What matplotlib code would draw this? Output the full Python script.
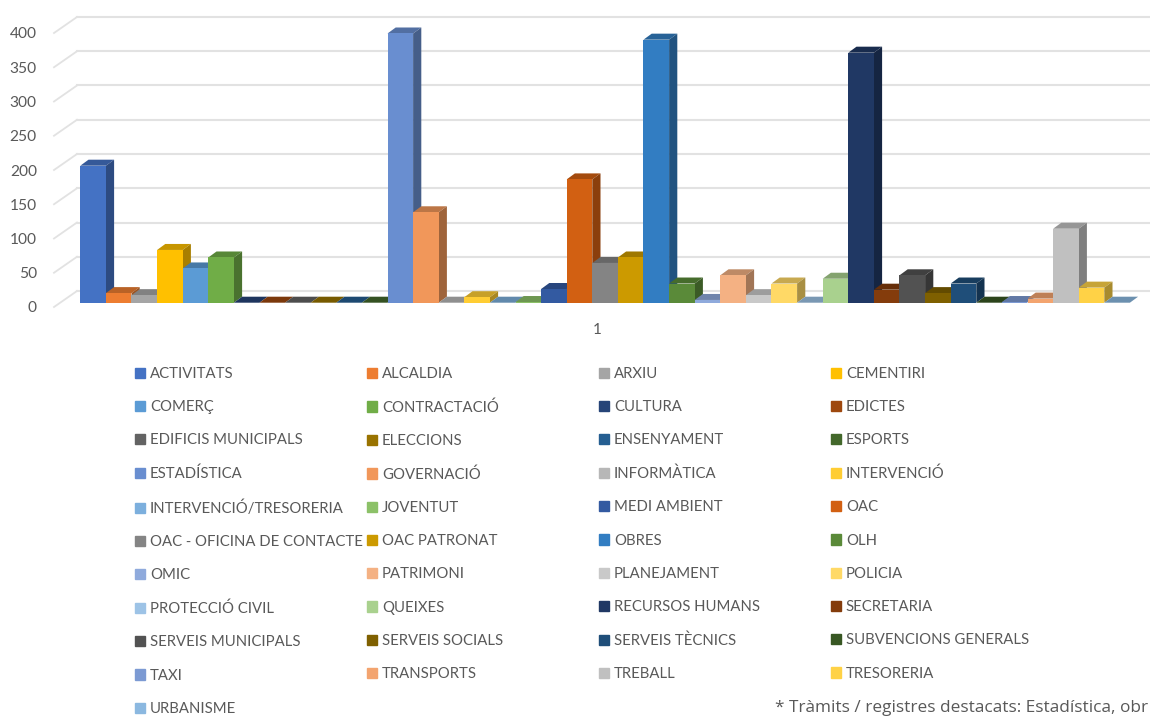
import matplotlib
matplotlib.use("Agg")
import matplotlib.pyplot as plt
from matplotlib.patches import Patch, Polygon

names = ["ACTIVITATS", "ALCALDIA", "ARXIU", "CEMENTIRI",
         "COMERÇ", "CONTRACTACIÓ", "CULTURA", "EDICTES",
         "EDIFICIS MUNICIPALS", "ELECCIONS", "ENSENYAMENT", "ESPORTS",
         "ESTADÍSTICA", "GOVERNACIÓ", "INFORMÀTICA", "INTERVENCIÓ",
         "INTERVENCIÓ/TRESORERIA", "JOVENTUT", "MEDI AMBIENT", "OAC",
         "OAC - OFICINA DE CONTACTE", "OAC PATRONAT", "OBRES", "OLH",
         "OMIC", "PATRIMONI", "PLANEJAMENT", "POLICIA",
         "PROTECCIÓ CIVIL", "QUEIXES", "RECURSOS HUMANS", "SECRETARIA",
         "SERVEIS MUNICIPALS", "SERVEIS SOCIALS", "SERVEIS TÈCNICS", "SUBVENCIONS GENERALS",
         "TAXI", "TRANSPORTS", "TREBALL", "TRESORERIA",
         "URBANISME"]

values = [200, 14, 11, 77, 50, 66, 0, 0, 0, 0, 0, 0,
          393, 132, 0, 8, 0, 1, 20, 180, 58, 66, 384, 28,
          4, 40, 11, 28, 0, 35, 365, 19, 40, 14, 28, 0,
          1, 6, 108, 22, 0]

colors = ["#4472C4", "#ED7D31", "#A5A5A5", "#FFC000", "#5B9BD5", "#70AD47",
          "#264478", "#9E480E", "#636363", "#997300", "#255E91", "#43682B",
          "#698ED0", "#F1975A", "#B7B7B7", "#FFCD33", "#7CAFDD", "#8CC168",
          "#335AA1", "#D26012", "#848484", "#CC9A00", "#327DC2", "#5A8A39",
          "#8FAADC", "#F4B183", "#C9C9C9", "#FFD966", "#9DC3E6", "#A9D18E",
          "#203864", "#843C0C", "#525252", "#7F6000", "#1F4E79", "#385723",
          "#7C9AD3", "#F3A46F", "#C0C0C0", "#FFD246", "#8BB8E0"]

yticks = [0, 50, 100, 150, 200, 250, 300, 350, 400]

W, H = 1150, 716
TEXT = "#595959"
plt.rcParams["font.family"] = ["Lato", "DejaVu Sans"]


def shade(col, f):
    r, g, b = matplotlib.colors.to_rgb(col)
    return (r * f, g * f, b * f)


fig = plt.figure(figsize=(W / 100, H / 100), dpi=100)
ax = fig.add_axes([54 / W, (H - 307) / H, (W - 54) / W, 274 / H])

# one x unit is one bar, 25.6 px wide, first bar starts at 80.3 px
bar_w = 25.6
px_y = 274 / 400
ax.set_xlim((54 - 80.3) / bar_w, (W - 80.3) / bar_w)
ax.set_ylim(0, 400)

# fake 3d offsets
wall_dx = 23 / bar_w
wall_dy = 16 / px_y
base = 4.3 / px_y
dx = 8.2 / bar_w
dy = 6 / px_y

for v in yticks:
    ax.plot([ax.get_xlim()[0], ax.get_xlim()[0] + wall_dx], [v, v + wall_dy],
            color="#E2E2E2", lw=1.3, clip_on=False, zorder=1)
    ax.plot([ax.get_xlim()[0] + wall_dx, ax.get_xlim()[1]], [v + wall_dy, v + wall_dy],
            color="#E2E2E2", lw=1.5, clip_on=False, zorder=1)

for i, (v, c) in enumerate(zip(values, colors)):
    z = 2 + i
    ax.bar(i, v, width=1, bottom=base, align="edge", color=c, zorder=z + 0.5, clip_on=False)
    top = base + v
    ax.add_patch(Polygon([(i, top), (i + 1, top), (i + 1 + dx, top + dy), (i + dx, top + dy)],
                         color=shade(c, 0.78), lw=0, zorder=z, clip_on=False))
    ax.add_patch(Polygon([(i + 1, base), (i + 1 + dx, base + dy), (i + 1 + dx, top + dy), (i + 1, top)],
                         color=shade(c, 0.66), lw=0, zorder=z, clip_on=False))

for s in ax.spines.values():
    s.set_visible(False)
ax.patch.set_visible(False)
ax.set_yticks(yticks)
ax.set_xticks([(597 - 80.3) / bar_w])
ax.set_xticklabels(["1"])
ax.tick_params(axis="y", length=0, pad=12.4, labelsize=11.2, labelcolor=TEXT)
ax.tick_params(axis="x", length=0, pad=11.5, labelsize=11, labelcolor=TEXT)

# one legend per column so the columns stay on the fixed 232 px grid
for col in range(4):
    handles = [Patch(color=colors[i], label=names[i]) for i in range(col, len(names), 4)]
    fig.legend(handles=handles, loc="upper left",
               bbox_to_anchor=((135 + 232 * col) / W, (H - 367) / H),
               bbox_transform=fig.transFigure, frameon=False, fontsize=10.7,
               labelcolor=TEXT, labelspacing=1.295, handlelength=0.68, handleheight=0.68,
               handletextpad=0.32, borderpad=0, borderaxespad=0)

fig.text(775 / W, (H - 708) / H, "* Tràmits / registres destacats: Estadística, obr",
         family="Open Sans", fontsize=12.4, color=TEXT, va="center")

fig.savefig("out.png", dpi=100)
